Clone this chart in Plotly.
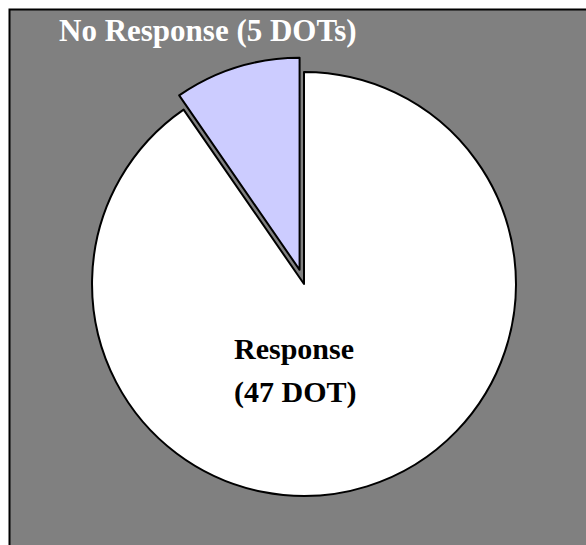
import plotly.graph_objects as go

# Data
labels = ["No Response", "Response"]
values = [5, 47]
label_texts = ["No Response (5 DOTs)", "Response", "(47 DOT)"]
slice_colors = ["#CCCCFF", "#FFFFFF"]

W, H = 586, 545

fig = go.Figure()
fig.add_trace(go.Pie(
    labels=labels,
    values=values,
    sort=False,
    direction="clockwise",
    rotation=-360 * values[0] / sum(values),
    pull=[0.07, 0],
    marker=dict(colors=slice_colors, line=dict(color="#000000", width=2)),
    textinfo="none",
    hoverinfo="label+value",
    showlegend=False,
    domain=dict(x=[(304 - 226.8) / W, (304 + 226.8) / W],
                y=[(261 - 226.8) / H, (261 + 226.8) / H]),
))

font_family = "Liberation Serif, Times New Roman, serif"

fig.add_annotation(
    text="<b>" + label_texts[0] + "</b>",
    xref="paper", yref="paper", x=57 / W, y=1 - 11 / H,
    xanchor="left", yanchor="top", showarrow=False,
    font=dict(family=font_family, size=31, color="#FFFFFF"),
)
fig.add_annotation(
    text="<b>" + label_texts[1] + "</b>",
    xref="paper", yref="paper", x=294 / W, y=1 - 348 / H,
    xanchor="center", yanchor="middle", showarrow=False,
    font=dict(family=font_family, size=30, color="#000000"),
)
fig.add_annotation(
    text="<b>" + label_texts[2] + "</b>",
    xref="paper", yref="paper", x=295 / W, y=1 - 392 / H,
    xanchor="center", yanchor="middle", showarrow=False,
    font=dict(family=font_family, size=30, color="#000000"),
)

fig.add_shape(
    type="rect", xref="paper", yref="paper",
    x0=9.5 / W, x1=1.05, y0=-0.05, y1=1 - 9.5 / H,
    fillcolor="#808080", line=dict(color="#000000", width=2),
    layer="below",
)

fig.update_layout(
    width=W, height=H,
    margin=dict(l=0, r=0, t=0, b=0),
    paper_bgcolor="#FFFFFF",
    plot_bgcolor="#FFFFFF",
)

fig.write_html("out.html")
